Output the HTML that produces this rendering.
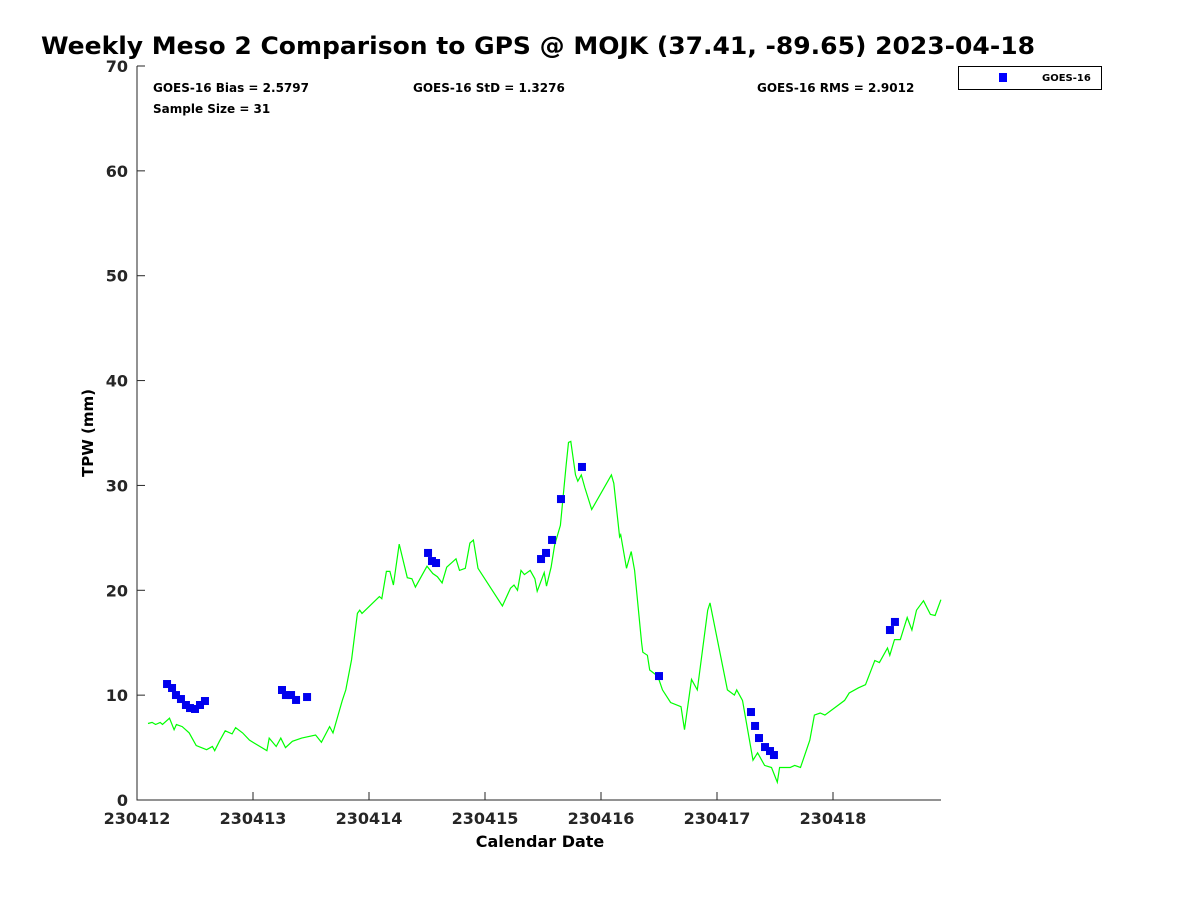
<!DOCTYPE html>
<html><head><meta charset="utf-8"><style>body{margin:0;background:#fff}svg{display:block}text{font-family:"DejaVu Sans","Liberation Sans",sans-serif;font-weight:bold}</style></head>
<body>
<svg id="chart" width="1200" height="900" xmlns="http://www.w3.org/2000/svg">
<text x="41" y="54" font-size="24" textLength="994" lengthAdjust="spacingAndGlyphs">Weekly Meso 2 Comparison to GPS @ MOJK (37.41, -89.65) 2023-04-18</text>
<text x="153" y="92" font-size="12">GOES-16 Bias = 2.5797</text>
<text x="413" y="92" font-size="12">GOES-16 StD = 1.3276</text>
<text x="757" y="92" font-size="12">GOES-16 RMS = 2.9012</text>
<text x="153" y="113" font-size="12">Sample Size = 31</text>
<g><rect x="958.5" y="66.5" width="143" height="23" fill="#fff" stroke="#000"/><rect x="999" y="73" width="8" height="9" fill="#0000ff"/><text x="1042" y="81" font-size="10">GOES-16</text></g>
<text x="540" y="847" font-size="16" text-anchor="middle">Calendar Date</text>
<text transform="translate(93,433) rotate(-90)" font-size="15" text-anchor="middle">TPW (mm)</text>
<g id="axes"></g><g id="marks"></g>
</svg>
<script>
const xTickLabels=["230412","230413","230414","230415","230416","230417","230418"];
const yTickLabels=[0,10,20,30,40,50,60,70];
const gpsDay=[0.095,0.13,0.16,0.2,0.22,0.28,0.32,0.34,0.39,0.45,0.51,0.6,0.65,0.67,0.71,0.76,0.82,0.85,0.91,0.97,1.12,1.14,1.2,1.24,1.28,1.34,1.42,1.54,1.59,1.66,1.69,1.77,1.8,1.85,1.9,1.92,1.94,2.09,2.11,2.15,2.18,2.21,2.26,2.33,2.37,2.4,2.5,2.55,2.59,2.63,2.67,2.75,2.78,2.83,2.87,2.9,2.94,3.15,3.22,3.25,3.28,3.31,3.34,3.39,3.43,3.45,3.51,3.53,3.57,3.6,3.65,3.7,3.72,3.74,3.78,3.8,3.83,3.86,3.92,4.09,4.11,4.16,4.17,4.22,4.26,4.29,4.35,4.36,4.4,4.42,4.49,4.53,4.6,4.69,4.72,4.78,4.83,4.92,4.94,5.09,5.15,5.17,5.22,5.31,5.35,5.41,5.47,5.52,5.54,5.63,5.67,5.72,5.8,5.84,5.89,5.93,6.1,6.14,6.22,6.28,6.36,6.4,6.47,6.49,6.53,6.58,6.64,6.68,6.72,6.78,6.84,6.88,6.93];
const gpsTpw=[7.3,7.4,7.2,7.4,7.2,7.8,6.7,7.2,7.0,6.4,5.2,4.8,5.1,4.7,5.6,6.6,6.3,6.9,6.4,5.7,4.7,5.9,5.1,5.9,5.0,5.6,5.9,6.2,5.5,7.0,6.4,9.5,10.5,13.4,17.8,18.1,17.8,19.4,19.2,21.8,21.8,20.5,24.4,21.2,21.1,20.3,22.3,21.6,21.3,20.7,22.2,23.0,21.9,22.1,24.5,24.8,22.1,18.5,20.2,20.5,20.0,21.9,21.5,21.9,21.1,19.9,21.7,20.4,22.2,24.3,26.2,32.0,34.1,34.2,31.0,30.4,31.0,29.8,27.7,31.0,30.2,25.1,25.3,22.1,23.7,21.9,15.0,14.1,13.8,12.4,11.8,10.5,9.3,8.9,6.7,11.5,10.5,18.1,18.8,10.5,10.0,10.5,9.5,3.8,4.5,3.3,3.1,1.7,3.1,3.1,3.3,3.1,5.7,8.1,8.3,8.1,9.5,10.2,10.7,11.0,13.3,13.1,14.5,13.8,15.3,15.3,17.4,16.2,18.1,19.0,17.7,17.6,19.1];
const goesDay=[0.259,0.302,0.336,0.379,0.422,0.457,0.5,0.543,0.586,1.25,1.284,1.328,1.371,1.466,2.509,2.543,2.578,3.483,3.526,3.578,3.655,3.836,4.5,5.293,5.328,5.362,5.414,5.457,5.491,6.491,6.534];
const goesTpw=[11.06,10.68,10.01,9.63,9.06,8.77,8.68,9.06,9.44,10.49,10.01,10.01,9.54,9.82,23.56,22.79,22.6,22.98,23.56,24.8,28.7,31.76,11.82,8.39,7.06,5.91,5.05,4.67,4.29,16.21,16.98];
const X0=137,X1=941,Y0=800,Y1=66,DMAX=(941-137)/116,VMAX=70;
const sx=d=>X0+d*(X1-X0)/DMAX, sy=v=>Y0-v*(Y0-Y1)/VMAX;
const NS="http://www.w3.org/2000/svg";
function mk(tag,attrs,parent){const e=document.createElementNS(NS,tag);for(const k in attrs)e.setAttribute(k,attrs[k]);parent.appendChild(e);return e;}
const axes=document.getElementById('axes'),marks=document.getElementById('marks');
let a=mk('path',{d:`M${X0},${Y1}V${Y0}H${X1}`,stroke:'#262626',fill:'none','stroke-width':1},axes);


yTickLabels.forEach(v=>{const y=sy(v);
 const t=mk('line',{x1:X0,x2:X0+8,y1:y,y2:y,stroke:'#262626'},axes);
 
 
 const l=mk('text',{x:X0-9,y:y+6,'font-size':16,'text-anchor':'end',fill:'#262626'},axes);l.textContent=v;
 
 });
xTickLabels.forEach((s,i)=>{const x=sx(i);
 const t=mk('line',{x1:x,x2:x,y1:Y0,y2:Y0-8,stroke:'#262626'},axes);
 
 
 const l=mk('text',{x:x,y:Y0+24,'font-size':16,'text-anchor':'middle',fill:'#262626'},axes);l.textContent=s;
 
 });
const p=mk('polyline',{points:gpsDay.map((d,i)=>sx(d).toFixed(1)+','+sy(gpsTpw[i]).toFixed(1)).join(' '),fill:'none',stroke:'#00ff00','stroke-width':1.2},marks);


goesDay.forEach((d,i)=>{const r=mk('rect',{x:sx(d)-4,y:sy(goesTpw[i])-4,width:8,height:8,fill:'#0000ee'},marks);
 
 });
</script>
</body></html>
